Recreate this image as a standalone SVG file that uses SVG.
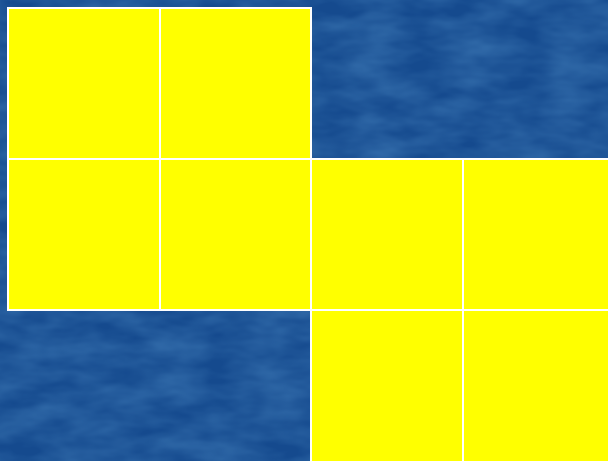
<svg xmlns="http://www.w3.org/2000/svg" width="608" height="461" viewBox="0 0 608 461">
<defs>
<style>
.c{fill:#ffff00;stroke:#ffffff;stroke-width:2}
</style>
<filter id="tex" x="0" y="0" width="1" height="1">
<feTurbulence type="fractalNoise" baseFrequency="0.02 0.05" numOctaves="3" seed="4"/>
<feColorMatrix type="matrix" values="0 0 0 0 0.12  0 0 0 0 0.36  0 0 0 0 0.68  0 0 0 0.9 -0.2"/>
</filter>
</defs>
<rect x="0" y="0" width="608" height="461" fill="#154a8e"/>
<rect x="0" y="0" width="608" height="461" filter="url(#tex)" opacity="0.6"/>
<g id="cells">
<rect class="c" x="8" y="8" width="152" height="151"/>
<rect class="c" x="160" y="8" width="151" height="151"/>
<rect class="c" x="8" y="159" width="152" height="151"/>
<rect class="c" x="160" y="159" width="151" height="151"/>
<rect class="c" x="311" y="159" width="152" height="151"/>
<rect class="c" x="463" y="159" width="152" height="151"/>
<rect class="c" x="311" y="310" width="152" height="155"/>
<rect class="c" x="463" y="310" width="152" height="155"/>
</g>
</svg>
